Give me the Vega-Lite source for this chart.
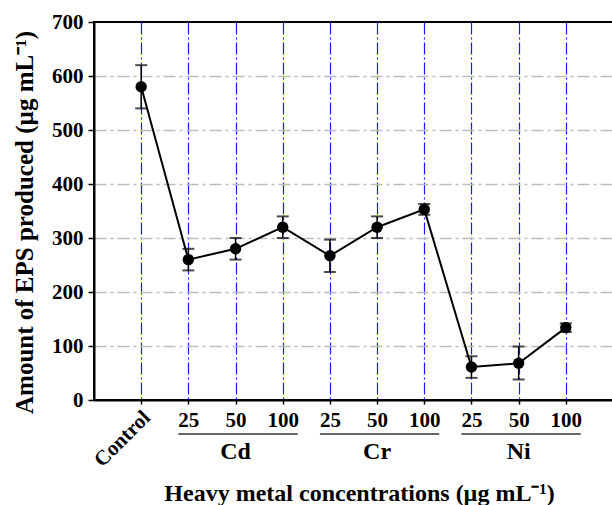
{
  "$schema": "https://vega.github.io/schema/vega-lite/v6.json",
  "width": 519,
  "height": 378,
  "autosize": "none",
  "padding": {"left": 94, "top": 22, "right": 0, "bottom": 105},
  "background": "white",
  "config": {
    "font": "Liberation Serif",
    "view": {"stroke": "black", "strokeWidth": 2},
    "axis": {
      "labelFont": "Liberation Serif",
      "labelFontWeight": "bold",
      "labelFontSize": 21,
      "labelColor": "black",
      "titleFont": "Liberation Serif",
      "titleFontWeight": "bold",
      "titleFontSize": 24,
      "titleColor": "black",
      "domainColor": "black",
      "domainWidth": 2,
      "tickColor": "black",
      "tickWidth": 1.5
    }
  },
  "datasets": {
    "eps": [
      {"key": "Control", "mean": 580, "lo": 540, "hi": 620},
      {"key": "Cd-25", "mean": 260, "lo": 240, "hi": 280},
      {"key": "Cd-50", "mean": 280, "lo": 260, "hi": 300},
      {"key": "Cd-100", "mean": 320, "lo": 300, "hi": 340},
      {"key": "Cr-25", "mean": 267, "lo": 237, "hi": 297},
      {"key": "Cr-50", "mean": 320, "lo": 300, "hi": 340},
      {"key": "Cr-100", "mean": 353, "lo": 343, "hi": 363},
      {"key": "Ni-25", "mean": 61, "lo": 41, "hi": 81},
      {"key": "Ni-50", "mean": 68, "lo": 38, "hi": 99},
      {"key": "Ni-100", "mean": 134, "lo": 126, "hi": 142}
    ],
    "groups": [
      {"group": "Cd", "start": "Cd-25", "mid": "Cd-50", "end": "Cd-100"},
      {"group": "Cr", "start": "Cr-25", "mid": "Cr-50", "end": "Cr-100"},
      {"group": "Ni", "start": "Ni-25", "mid": "Ni-50", "end": "Ni-100"}
    ]
  },
  "layer": [
    {
      "data": {"name": "eps"},
      "mark": {"type": "line", "color": "black", "strokeWidth": 2},
      "encoding": {
        "x": {
          "field": "key",
          "type": "nominal",
          "sort": null,
          "scale": {"type": "point", "padding": 1, "domain": ["Control", "Cd-25", "Cd-50", "Cd-100", "Cr-25", "Cr-50", "Cr-100", "Ni-25", "Ni-50", "Ni-100"]},
          "title": "Heavy metal concentrations (µg mL⁻¹)",
          "axis": {
            "labelExpr": "indexof(datum.value, '-') > 0 ? split(datum.value, '-')[1] : ''",
            "labelAngle": 0,
            "tickSize": 4,
            "labelPadding": 5,
            "titleBaseline": "alphabetic",
            "titleY": 100,
            "titleX": 265,
            "grid": true,
            "gridColor": "#1a1aff",
            "gridDash": [12, 3, 2, 3],
            "gridWidth": 1.2
          }
        },
        "y": {
          "field": "mean",
          "type": "quantitative",
          "scale": {"domain": [0, 700], "nice": false, "zero": true},
          "title": "Amount of EPS produced (µg mL⁻¹)",
          "axis": {
            "values": [0, 100, 200, 300, 400, 500, 600, 700],
            "tickSize": 6,
            "labelPadding": 5,
            "titlePadding": 14,
            "titleFontSize": 25,
            "titleY": 200,
            "grid": true,
            "gridColor": "#bdbdbd",
            "gridDash": [12, 4, 3, 4],
            "gridWidth": 1.5,
            "gridOpacity": {"condition": {"test": "datum.value === 700 || datum.value === 0", "value": 0}, "value": 1}
          }
        }
      }
    },
    {
      "data": {"name": "eps"},
      "mark": {"type": "rule", "color": "black", "strokeWidth": 1.5},
      "encoding": {
        "x": {"field": "key", "type": "nominal", "sort": null, "title": "Heavy metal concentrations (µg mL⁻¹)"},
        "y": {"field": "lo", "type": "quantitative"},
        "y2": {"field": "hi"}
      }
    },
    {
      "data": {"name": "eps"},
      "mark": {"type": "tick", "color": "black", "size": 12, "thickness": 2},
      "encoding": {
        "x": {"field": "key", "type": "nominal", "sort": null, "title": "Heavy metal concentrations (µg mL⁻¹)"},
        "y": {"field": "lo", "type": "quantitative"}
      }
    },
    {
      "data": {"name": "eps"},
      "mark": {"type": "tick", "color": "black", "size": 12, "thickness": 2},
      "encoding": {
        "x": {"field": "key", "type": "nominal", "sort": null, "title": "Heavy metal concentrations (µg mL⁻¹)"},
        "y": {"field": "hi", "type": "quantitative"}
      }
    },
    {
      "data": {"name": "eps"},
      "mark": {"type": "circle", "color": "black", "opacity": 1, "size": 130},
      "encoding": {
        "x": {"field": "key", "type": "nominal", "sort": null, "title": "Heavy metal concentrations (µg mL⁻¹)"},
        "y": {"field": "mean", "type": "quantitative"}
      }
    },
    {
      "data": {"name": "eps"},
      "transform": [{"filter": "datum.key === 'Control'"}],
      "mark": {"type": "text", "color": "black", "font": "Liberation Serif", "fontWeight": "bold", "fontSize": 21, "angle": -45, "align": "right", "baseline": "middle", "xOffset": 6},
      "encoding": {
        "x": {"field": "key", "type": "nominal", "sort": null, "title": "Heavy metal concentrations (µg mL⁻¹)"},
        "y": {"datum": -27, "type": "quantitative"},
        "text": {"field": "key"}
      }
    },
    {
      "data": {"name": "groups"},
      "mark": {"type": "rule", "color": "#333333", "strokeWidth": 1.5, "xOffset": -10, "x2Offset": 15},
      "encoding": {
        "x": {"field": "start", "type": "nominal", "sort": null, "title": "Heavy metal concentrations (µg mL⁻¹)"},
        "x2": {"field": "end"},
        "y": {"datum": -63, "type": "quantitative"}
      }
    },
    {
      "data": {"name": "groups"},
      "mark": {"type": "text", "color": "black", "font": "Liberation Serif", "fontWeight": "bold", "fontSize": 24, "baseline": "middle", "align": "center"},
      "encoding": {
        "x": {"field": "mid", "type": "nominal", "sort": null, "title": "Heavy metal concentrations (µg mL⁻¹)"},
        "y": {"datum": -97, "type": "quantitative"},
        "text": {"field": "group"}
      }
    }
  ]
}
